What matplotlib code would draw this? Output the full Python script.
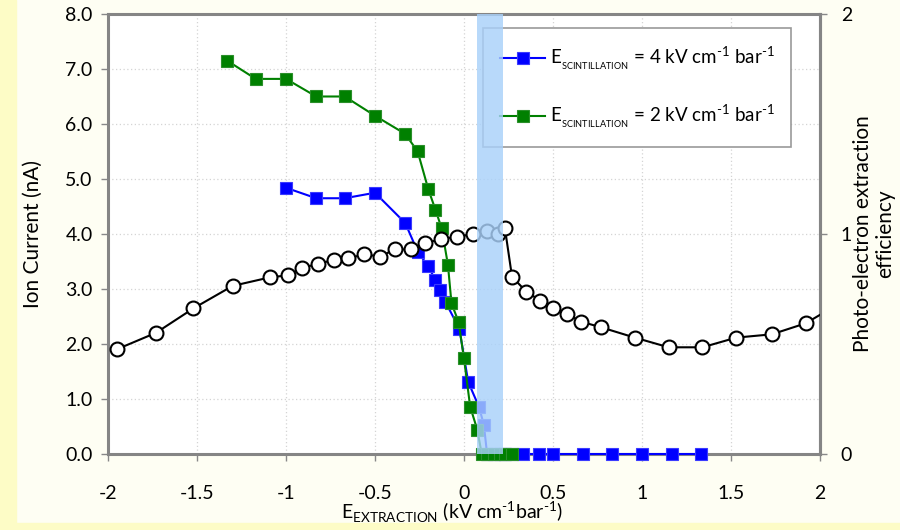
import matplotlib
matplotlib.use("Agg")
from matplotlib import pyplot as plt
from matplotlib import patches as ptch

plt.rcParams["font.family"] = ["Lato", "DejaVu Sans"]
plt.rcParams["mathtext.fontset"] = "custom"
plt.rcParams["mathtext.rm"] = "Lato"
plt.rcParams["axes.unicode_minus"] = False

# ion current, E_scint = 4 kV/cm/bar
blue_x = [-1.0, -0.83, -0.67, -0.5, -0.33, -0.26, -0.2, -0.16, -0.135, -0.105, -0.026, 0.024, 0.084, 0.112,
          0.13, 0.17, 0.2, 0.23, 0.27, 0.33, 0.42, 0.5, 0.67, 0.83, 1.0, 1.17, 1.33]
blue_y = [4.84, 4.65, 4.65, 4.75, 4.2, 3.68, 3.41, 3.16, 2.98, 2.77, 2.28, 1.31, 0.86, 0.53,
          0, 0, 0, 0, 0, 0, 0, 0, 0, 0, 0, 0, 0]

# ion current, E_scint = 2 kV/cm/bar
green_x = [-1.33, -1.17, -1.0, -0.83, -0.67, -0.5, -0.33, -0.26, -0.2, -0.16, -0.125, -0.09, -0.07, -0.03,
           0.0, 0.035, 0.075, 0.1, 0.13, 0.17, 0.2, 0.23, 0.27]
green_y = [7.15, 6.82, 6.82, 6.5, 6.5, 6.15, 5.82, 5.5, 4.81, 4.44, 4.1, 3.44, 2.74, 2.4,
           1.74, 0.86, 0.44, 0, 0, 0, 0, 0, 0]

# photo-electron extraction efficiency (right axis)
eff_x = [-1.95, -1.73, -1.52, -1.3, -1.09, -0.99, -0.91, -0.82, -0.73, -0.65, -0.56, -0.47, -0.39, -0.3,
         -0.22, -0.13, -0.04, 0.05, 0.13, 0.19, 0.23, 0.27, 0.35, 0.43, 0.5, 0.58, 0.66, 0.77, 0.96,
         1.15, 1.34, 1.53, 1.73, 1.92, 2.1]
eff_y = [0.476, 0.551, 0.662, 0.764, 0.803, 0.812, 0.845, 0.865, 0.882, 0.889, 0.908, 0.897, 0.93, 0.93,
         0.958, 0.976, 0.988, 0.999, 1.014, 1.002, 1.027, 0.806, 0.738, 0.697, 0.662, 0.636, 0.601, 0.576, 0.529,
         0.485, 0.485, 0.529, 0.544, 0.594, 0.68]

band = (0.075, 0.22)
xticks = [-2, -1.5, -1, -0.5, 0, 0.5, 1, 1.5, 2]
xlabels = ["-2", "-1.5", "-1", "-0.5", "0", "0.5", "1", "1.5", "2"]
yticks = [0, 1, 2, 3, 4, 5, 6, 7, 8]
y2ticks = [0, 1, 2]

lab4 = r"E$_{_{\mathregular{SCINTILLATION}}}$ = 4 kV cm$^{\text{-1}}$ bar$^{\text{-1}}$"
lab2 = r"E$_{_{\mathregular{SCINTILLATION}}}$ = 2 kV cm$^{\text{-1}}$ bar$^{\text{-1}}$"
xlab = r"E$_{\mathregular{EXTRACTION}}$ (kV cm$^{\text{-1}}$bar$^{\text{-1}}$)"

fig = plt.figure(figsize=(9, 5.3), dpi=100, facecolor="#fefef3")
fig.patches.append(ptch.Rectangle((0, 0), 0.018, 1, transform=fig.transFigure,
                                  color="#fdfcc6", zorder=-10))
fig.patches.append(ptch.Rectangle((0, 0), 1, 0.013, transform=fig.transFigure,
                                  color="#fdfcc6", zorder=-10))
ax = fig.add_axes([0.12, 0.1434, 0.791, 0.8302])
ax.set_facecolor("white")

ax.plot(blue_x, blue_y, color="#0000ff", lw=1.5, marker="s", ms=9,
        mfc="#0000ff", mec="#3a3aff", mew=0.8, label=lab4, zorder=3, clip_on=False)
ax.plot(green_x, green_y, color="#008000", lw=1.5, marker="s", ms=9,
        mfc="#008000", mec="#2a8f2a", mew=0.8, label=lab2, zorder=4, clip_on=False)

ax.set_xlim(-2, 2)
ax.set_ylim(0, 8)
ax.set_xticks(xticks)
ax.set_xticklabels(xlabels)
ax.set_yticks(yticks)
ax.set_yticklabels(["%.1f" % v for v in yticks])
ax.grid(True, color="#d4d4d4", ls=(0, (1, 2)), lw=0.9)
ax.set_axisbelow(True)
ax.tick_params(labelsize=14, length=5, width=1, color="#888888", pad=6)
ax.tick_params(axis="x", pad=17)
for s in ax.spines.values():
    s.set_color("#858585")
    s.set_linewidth(2.2)

ax.set_ylabel("Ion Current (nA)", fontsize=15)
ax.yaxis.set_label_coords(-0.092, 0.5)
ax.set_xlabel(xlab, fontsize=14)
ax.xaxis.set_label_coords(0.483, -0.105)

leg = ax.legend(loc="upper left", bbox_to_anchor=(0.527, 0.968), fontsize=13.5,
                frameon=True, fancybox=False, edgecolor="#999999", framealpha=1,
                handlelength=2.4, handletextpad=0.25, labelspacing=1.6,
                borderpad=0.9, borderaxespad=0)
leg.get_frame().set_linewidth(1.2)

ax2 = ax.twinx()
ax2.plot(eff_x, eff_y, color="black", lw=1.5, marker="o", ms=10,
         mfc="white", mec="black", mew=1.5, zorder=3)
ax2.set_ylim(0, 2)
ax2.set_yticks(y2ticks)
ax2.set_yticklabels([str(v) for v in y2ticks])
ax2.tick_params(labelsize=14, length=5, width=1, color="#888888", pad=10)
for name, s in ax2.spines.items():
    s.set_color("#858585")
    s.set_linewidth(2.2)
    if name != "right":
        s.set_visible(False)
ax2.set_ylabel("Photo-electron extraction\nefficiency", fontsize=15, linespacing=1.1)
ax2.yaxis.set_label_coords(1.047, 0.5)

# shaded region drawn over everything
ax2.axvspan(band[0], band[1], color="#a9d1fa", alpha=0.82, lw=0, zorder=10)

fig.savefig("out.png", dpi=100, facecolor=fig.get_facecolor())
